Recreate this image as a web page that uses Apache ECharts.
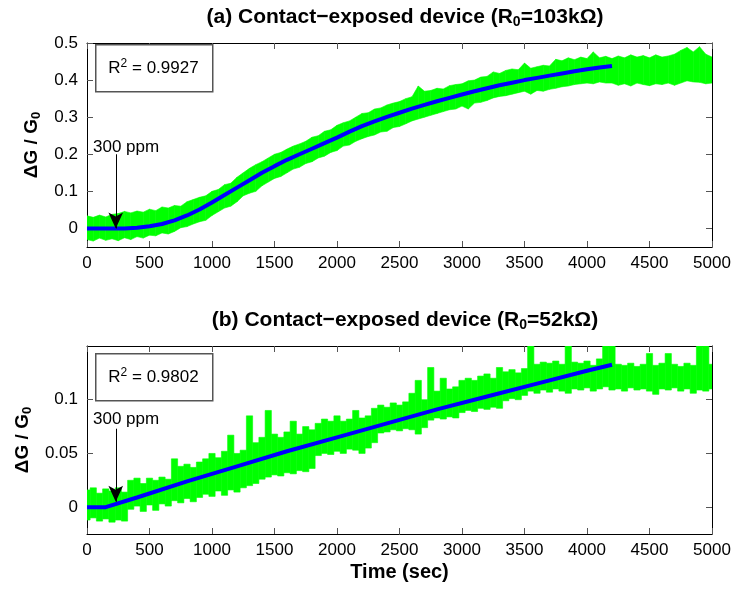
<!DOCTYPE html>
<html>
<head>
<meta charset="utf-8">
<title>Contact-exposed devices</title>
<script src="https://cdn.jsdelivr.net/npm/echarts@6.0.0/dist/echarts.min.js"></script>
<style>
  html, body { margin: 0; padding: 0; background: #fff; }
  #chart { width: 735px; height: 590px; }
</style>
</head>
<body>
<div id="chart"></div>
<script>
// raw signal band (upper / lower envelope), one value every 50 s, 0..5000 s
const sampleStep = 50;
const upperA = [
  0.034, 0.030, 0.036, 0.031, 0.038, 0.040, 0.046, 0.042, 0.047, 0.044,
  0.052, 0.048, 0.058, 0.055, 0.062, 0.060, 0.072, 0.078, 0.084, 0.088,
  0.100, 0.105, 0.118, 0.122, 0.138, 0.150, 0.162, 0.172, 0.180, 0.190,
  0.200, 0.205, 0.214, 0.222, 0.228, 0.235, 0.246, 0.250, 0.262, 0.266,
  0.278, 0.285, 0.290, 0.300, 0.310, 0.312, 0.322, 0.325, 0.333, 0.338,
  0.342, 0.350, 0.355, 0.384, 0.370, 0.372, 0.378, 0.376, 0.385, 0.388,
  0.390, 0.398, 0.400, 0.408, 0.410, 0.422, 0.418, 0.426, 0.430, 0.428,
  0.446, 0.432, 0.436, 0.440, 0.438, 0.456, 0.452, 0.460, 0.455, 0.462,
  0.458, 0.476, 0.460, 0.464, 0.458, 0.465, 0.460, 0.468, 0.462, 0.466,
  0.460, 0.468, 0.462, 0.465, 0.470, 0.480, 0.488, 0.476, 0.490, 0.470,
  0.462
];
const lowerA = [
  -0.030, -0.034, -0.026, -0.032, -0.028, -0.033, -0.025, -0.030, -0.022, -0.026,
  -0.018, -0.020, -0.012, -0.015, -0.008, 0.002, 0.005, 0.012, 0.018, 0.022,
  0.035, 0.045, 0.055, 0.060, 0.072, 0.088, 0.095, 0.100, 0.115, 0.125,
  0.135, 0.140, 0.150, 0.160, 0.165, 0.175, 0.180, 0.190, 0.195, 0.205,
  0.210, 0.222, 0.225, 0.235, 0.242, 0.248, 0.252, 0.260, 0.262, 0.272,
  0.275, 0.282, 0.290, 0.295, 0.300, 0.305, 0.310, 0.315, 0.320, 0.322,
  0.330, 0.322, 0.338, 0.340, 0.345, 0.352, 0.356, 0.358, 0.362, 0.366,
  0.370, 0.362, 0.372, 0.370, 0.375, 0.378, 0.382, 0.384, 0.388, 0.390,
  0.392, 0.390, 0.395, 0.392, 0.392, 0.386, 0.390, 0.384, 0.392, 0.388,
  0.385, 0.390, 0.388, 0.392, 0.386, 0.392, 0.398, 0.395, 0.394, 0.390,
  0.392
];
const upperB = [
  0.016, 0.018, 0.013, 0.017, 0.015, 0.018, 0.014, 0.025, 0.027, 0.022,
  0.027, 0.025, 0.028, 0.026, 0.045, 0.038, 0.040, 0.037, 0.042, 0.045,
  0.050, 0.046, 0.052, 0.067, 0.050, 0.053, 0.085, 0.060, 0.065, 0.090,
  0.068, 0.065, 0.070, 0.080, 0.068, 0.075, 0.072, 0.078, 0.082, 0.080,
  0.085, 0.080, 0.082, 0.090, 0.083, 0.085, 0.092, 0.095, 0.093, 0.097,
  0.095, 0.098, 0.106, 0.118, 0.100, 0.130, 0.108, 0.120, 0.110, 0.112,
  0.118, 0.120, 0.118, 0.122, 0.124, 0.120, 0.130, 0.126, 0.128, 0.125,
  0.129, 0.150, 0.133, 0.135, 0.134, 0.136, 0.133, 0.150, 0.135, 0.134,
  0.136, 0.132, 0.138, 0.150, 0.150, 0.133, 0.132, 0.134, 0.131, 0.133,
  0.143, 0.132, 0.134, 0.143, 0.133, 0.131, 0.134, 0.132, 0.150, 0.150,
  0.133
];
const lowerB = [
  -0.012, -0.010, -0.013, -0.011, -0.014, -0.012, -0.013, -0.002, 0.001, -0.004,
  0.002, -0.003, 0.003, 0.001, 0.006, 0.004, 0.008, 0.005, 0.009, 0.012,
  0.010, 0.015, 0.011, 0.016, 0.014, 0.018, 0.020, 0.022, 0.026, 0.028,
  0.030, 0.029, 0.032, 0.031, 0.034, 0.033, 0.036, 0.048, 0.050, 0.049,
  0.052, 0.050, 0.054, 0.053, 0.050, 0.055, 0.060, 0.069, 0.070, 0.072,
  0.071, 0.073, 0.072, 0.068, 0.074, 0.081, 0.083, 0.082, 0.084, 0.083,
  0.088, 0.090, 0.089, 0.092, 0.091, 0.093, 0.092, 0.099, 0.101, 0.100,
  0.104, 0.108, 0.106, 0.109, 0.107, 0.110, 0.108, 0.106, 0.110, 0.109,
  0.111, 0.108, 0.110, 0.112, 0.109, 0.110, 0.108, 0.111, 0.109, 0.110,
  0.108, 0.105, 0.110, 0.109, 0.111, 0.108, 0.110, 0.106, 0.109, 0.108,
  0.110
];

// fitted curves
const fitTimeA = [0, 100, 200, 300, 400, 500, 600, 700, 800, 900, 1000,
  1100, 1200, 1300, 1400, 1500, 1600, 1700, 1800, 1900, 2000,
  2100, 2200, 2300, 2400, 2500, 2600, 2700, 2800, 2900, 3000,
  3100, 3200, 3300, 3400, 3500, 3600, 3700, 3800, 3900, 4000, 4100, 4200];
const fitA = [0, 0, 0, 0, 0.002, 0.006, 0.012, 0.022, 0.035, 0.051, 0.070,
  0.090, 0.110, 0.130, 0.150, 0.168, 0.185, 0.200, 0.215, 0.230, 0.245,
  0.261, 0.276, 0.289, 0.301, 0.312, 0.323, 0.333, 0.343, 0.352, 0.361,
  0.370, 0.378, 0.386, 0.393, 0.400, 0.406, 0.412, 0.418, 0.424, 0.429, 0.434, 0.438];
const fitTimeB = [0, 150, 400, 800, 1200, 1600, 2000, 2400, 2800, 3200, 3600, 4000, 4200];
const fitB = [0, 0, 0.009, 0.024, 0.038, 0.052, 0.065, 0.078, 0.091, 0.103, 0.115, 0.127, 0.1325];

const yTicksA = [0, 0.1, 0.2, 0.3, 0.4, 0.5];
const yTicksB = [0, 0.05, 0.1];
const r2A = '0.9927';
const r2B = '0.9802';

// gas-on arrow: time, start value, tip value
const arrowA = [230, 0.2, 0.0];
const arrowB = [230, 0.073, 0.005];

const FONT = "'Liberation Sans', Arial, Helvetica, sans-serif";
const GREEN = '#00ff00';
const BLUE = '#0000ff';

const zip = (xs, ys) => xs.map((x, i) => [x, ys[i]]);
const bandData = (up, lo) => up.map((v, i) => [i * sampleStep, lo[i], v]);

const chart = echarts.init(document.getElementById('chart'));

function xAx(gridIndex, position, withLabels, name) {
  return {
    type: 'value', gridIndex, position,
    min: 0, max: 5000, interval: 500,
    axisLine: { show: true, onZero: false, lineStyle: { color: '#000', width: 1 } },
    axisTick: { show: true, inside: true, length: 6, lineStyle: { color: '#555' } },
    axisLabel: { show: withLabels, color: '#000', fontSize: 17, fontFamily: FONT, margin: 8,
      formatter: (v) => String(v) },
    splitLine: { show: false },
    name: name || '', nameLocation: 'middle', nameGap: 28,
    nameTextStyle: { color: '#000', fontSize: 20, fontWeight: 'bold', fontFamily: FONT }
  };
}

function yAx(gridIndex, position, min, max, ticks, withLabels) {
  return {
    type: 'value', gridIndex, position, min, max,
    axisLine: { show: true, onZero: false, lineStyle: { color: '#000', width: 1 } },
    axisTick: { show: true, inside: true, length: 6, lineStyle: { color: '#555' }, customValues: ticks },
    axisLabel: { show: withLabels, color: '#000', fontSize: 17, fontFamily: FONT, margin: 9, customValues: ticks },
    splitLine: { show: false },
    name: withLabels ? 'ΔG / G{sub|0}' : '',
    nameLocation: 'middle', nameGap: 44, nameRotate: 90,
    nameTextStyle: {
      color: '#000', fontSize: 19, fontWeight: 'bold', fontFamily: FONT,
      rich: { sub: { fontSize: 13, fontWeight: 'bold', fontFamily: FONT, verticalAlign: 'bottom', padding: [9, 0, 0, 0] } }
    }
  };
}

function arrowLine(a) {
  return {
    silent: true,
    symbol: ['none', 'arrow'],
    symbolSize: [11, 16],
    label: { show: false },
    emphasis: { disabled: true },
    lineStyle: { color: '#000', width: 1, type: 'solid' },
    data: [[{ coord: [a[0], a[1]] }, { coord: [a[0], a[2]] }]]
  };
}

// noisy raw signal: filled band between lower and upper envelope
function band(idx, up, lo, blocky) {
  return {
    type: 'custom', xAxisIndex: idx * 2, yAxisIndex: idx * 2,
    silent: true, clip: true, z: 1,
    data: bandData(up, lo),
    encode: { x: 0, y: [1, 2] },
    renderItem: (params, api) => {
      const i = params.dataIndex;
      const t = api.value(0);
      if (blocky) {
        const a = api.coord([Math.max(0, t - sampleStep / 2), api.value(2)]);
        const b = api.coord([Math.min(5000, t + sampleStep / 2), api.value(1)]);
        return { type: 'rect', shape: { x: a[0], y: a[1], width: b[0] - a[0], height: b[1] - a[1] },
          style: { fill: GREEN, stroke: GREEN, lineWidth: 0.6 } };
      }
      if (i >= up.length - 1) return null;
      const pts = [
        api.coord([t, up[i]]), api.coord([t + sampleStep, up[i + 1]]),
        api.coord([t + sampleStep, lo[i + 1]]), api.coord([t, lo[i]])
      ];
      return { type: 'polygon', shape: { points: pts }, style: { fill: GREEN, stroke: GREEN, lineWidth: 0.6 } };
    }
  };
}

function titleOf(text, top) {
  return {
    text, left: 400, top, textAlign: 'center',
    textStyle: {
      color: '#000', fontSize: 21, fontWeight: 'bold', fontFamily: FONT,
      rich: { sub: { fontSize: 14, fontWeight: 'bold', fontFamily: FONT, verticalAlign: 'bottom', padding: [10, 0, 0, 0] } }
    }
  };
}

function r2Box(top, value) {
  return [
    { type: 'rect', left: 95, top, shape: { width: 117, height: 47 },
      style: { fill: '#fff', stroke: '#555', lineWidth: 1.5 }, z: 100 },
    { type: 'text', x: 153.5, y: top + 24, z: 101,
      style: {
        text: 'R{sup|2} = ' + value, fill: '#000', fontSize: 17, fontFamily: FONT,
        align: 'center', verticalAlign: 'middle',
        rich: { sup: { fontSize: 12, fontFamily: FONT, verticalAlign: 'top', padding: [0, 0, 9, 0] } }
      } }
  ];
}

function ppmText(y) {
  return { type: 'text', x: 93, y, z: 101,
    style: { text: '300 ppm', fill: '#000', fontSize: 17, fontFamily: FONT, align: 'left', verticalAlign: 'middle' } };
}

chart.setOption({
  animation: false,
  backgroundColor: '#fff',
  title: [
    titleOf('(a) Contact\u2212exposed device (R{sub|0}=103k\u03a9)', 0),
    titleOf('(b) Contact\u2212exposed device (R{sub|0}=52k\u03a9)', 303)
  ],
  grid: [
    { left: 87, top: 43, width: 625, height: 204 },
    { left: 87, top: 346, width: 625, height: 188 }
  ],
  xAxis: [
    xAx(0, 'bottom', true),
    xAx(0, 'top', false),
    xAx(1, 'bottom', true, 'Time (sec)'),
    xAx(1, 'top', false)
  ],
  yAxis: [
    yAx(0, 'left', -0.05, 0.5, yTicksA, true),
    yAx(0, 'right', -0.05, 0.5, yTicksA, false),
    yAx(1, 'left', -0.025, 0.15, yTicksB, true),
    yAx(1, 'right', -0.025, 0.15, yTicksB, false)
  ],
  series: [
    band(0, upperA, lowerA, false),
    {
      type: 'line', xAxisIndex: 0, yAxisIndex: 0, data: zip(fitTimeA, fitA),
      symbol: 'none', silent: true, z: 3,
      lineStyle: { color: BLUE, width: 4 },
      markLine: arrowLine(arrowA)
    },
    band(1, upperB, lowerB, true),
    {
      type: 'line', xAxisIndex: 2, yAxisIndex: 2, data: zip(fitTimeB, fitB),
      symbol: 'none', silent: true, z: 3,
      lineStyle: { color: BLUE, width: 4 },
      markLine: arrowLine(arrowB)
    }
  ],
  graphic: [
    ...r2Box(44, r2A),
    ...r2Box(353, r2B),
    ppmText(147),
    ppmText(419)
  ]
});
</script>
</body>
</html>
